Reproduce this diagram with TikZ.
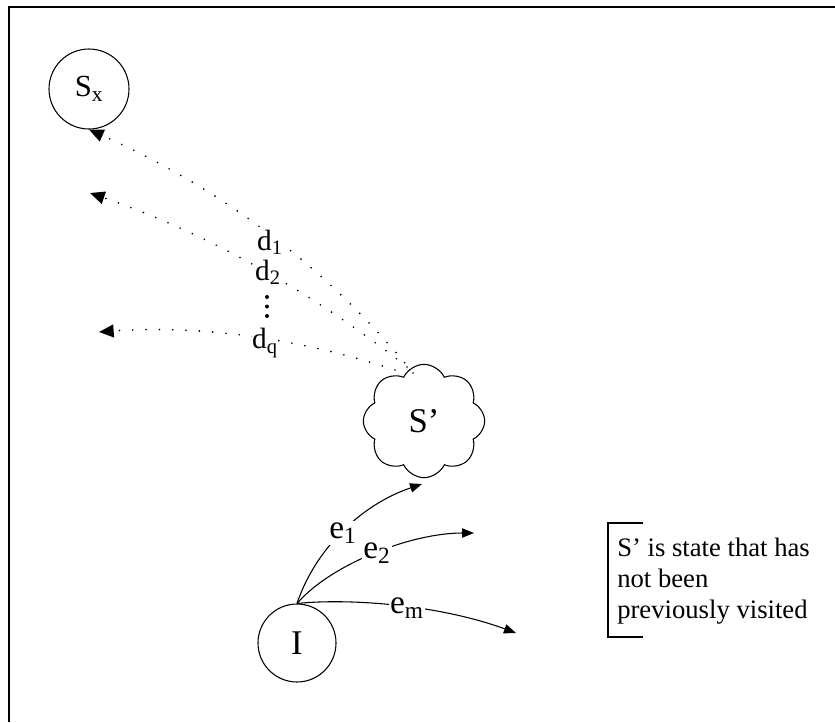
\documentclass[tikz,border=0pt]{standalone}
\usepackage{fontspec}
\setmainfont{Liberation Serif}
\usetikzlibrary{arrows.meta,shapes.symbols}
\begin{document}
\begin{tikzpicture}[x=0.75pt,y=-0.75pt,
  state/.style={circle,draw,line width=0.8pt,inner sep=0pt},
  dotline/.style={line width=1.4pt,dash pattern=on 0pt off 10pt,line cap=round,
    -{Triangle[length=11pt,width=9.5pt]}},
  earrow/.style={line width=0.8pt,-{Triangle[length=9pt,width=7pt]}},
  dlab/.style={fill=white,inner sep=0.5pt,font=\fontsize{22}{26}\selectfont},
  elab/.style={fill=white,inner sep=1pt,font=\fontsize{25}{30}\selectfont},
  vdot/.style={circle,fill,inner sep=0pt,minimum size=3pt}]
\useasboundingbox (0,0) rectangle (835,722);
% frame
\draw[line width=1.5pt] (835,7) -- (9,7) -- (9,722);
% states
\node[state,minimum size=60pt,font=\fontsize{23}{27}\selectfont] (Sx) at (89,89) {S\textsubscript{x}};
\node[state,minimum size=58.5pt,font=\fontsize{26}{30}\selectfont] (I) at (297,643) {I};
\node[cloud,draw,line width=0.8pt,cloud puffs=8,cloud puff arc=130,aspect=1.08,
  minimum width=91pt,minimum height=85pt,inner sep=0pt,
  font=\fontsize{26}{30}\selectfont] (Sp) at (424,421) {S’};
% free ends
\coordinate (a1) at (413,373);
\coordinate (a2) at (407,367);
\coordinate (a3) at (395,370);
\coordinate (t2) at (90,193);
\coordinate (t3) at (99,332);
\coordinate (ue1) at (422,484);
\coordinate (ue2) at (474,533);
\coordinate (uem) at (516,633);
% dotted edges from S'
\draw[dotline] (a1) .. controls (328,268) and (222,189) .. (Sx.south);
\draw[dotline] (a2) .. controls (311,291) and (206,233) .. (t2);
\draw[dotline] (a3) .. controls (295,337) and (197,325) .. (t3);
\node[dlab] (d1) at (270,242) {d\textsubscript{1}};
\node[dlab] (d2) at (268,272) {d\textsubscript{2}};
\node[vdot] (v1) at (267,297) {};
\node[vdot] (v2) at (267,306.5) {};
\node[vdot] (v3) at (267,316) {};
\node[dlab] (dq) at (265,343) {d\textsubscript{q}};
% edges from I
\draw[earrow] (I.north) .. controls (315,550) and (360,505) .. (ue1);
\draw[earrow] (I.north) .. controls (330,565) and (410,533) .. (ue2);
\draw[earrow] (I.north) .. controls (350,598) and (440,605) .. (uem);
\node[elab] (e1) at (343,533) {e\textsubscript{1}};
\node[elab] (e2) at (377,553) {e\textsubscript{2}};
\node[elab] (em) at (407,608) {e\textsubscript{m}};
% note
\draw[line width=0.8pt] (643,523) -- (608,523) -- (608,637) -- (643,637);
\node[anchor=north west,inner sep=0pt,align=left,
  font=\fontsize{20}{23.25}\selectfont] (note) at (617,538)
  {S’ is state that has\\not been\\previously visited};
\end{tikzpicture}
\end{document}
